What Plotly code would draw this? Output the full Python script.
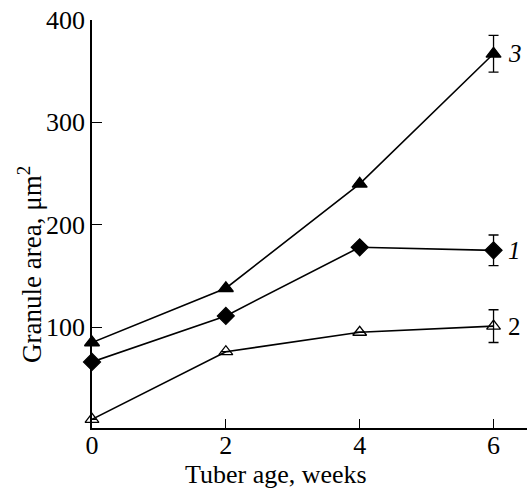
import plotly.graph_objects as go

weeks = [0, 2, 4, 6]
s1 = [66, 111, 178, 175]
s1_err = [0, 0, 0, 15]
s2 = [10, 76, 95, 101]
s2_err = [0, 0, 0, 16]
s3 = [85, 138, 240, 367]
s3_err = [0, 0, 0, 18]
y_ticks = [100, 200, 300, 400]
x_ticks = [0, 2, 4, 6]

FONT = "Liberation Serif"
fig = go.Figure()

def add(y, err, sym, size):
    fig.add_trace(go.Scatter(
        x=weeks, y=y, mode="lines+markers",
        line=dict(color="black", width=1.6),
        marker=dict(symbol=sym, size=size, color="black",
                    line=dict(color="black", width=1.3)),
        error_y=dict(type="data", array=err, visible=True, color="black",
                     thickness=1.3, width=5),
        cliponaxis=False, showlegend=False))

add(s2, s2_err, "triangle-up-open", 12)
add(s1, s1_err, "diamond", 13)
add(s3, s3_err, "triangle-up", 13)

labels = [("3", s3[-1], True), ("1", s1[-1], True), ("2", s2[-1], False)]
for txt, yv, it in labels:
    fig.add_annotation(x=6, y=yv, text=f"<i>{txt}</i>" if it else txt,
                       showarrow=False, xanchor="left", xshift=12,
                       font=dict(family=FONT, size=25, color="black"))

fig.add_annotation(xref="paper", yref="paper", x=(275.5 - 92) / 435,
                   y=-(474 - 428) / 408, yanchor="middle",
                   text="Tuber age, weeks", showarrow=False,
                   font=dict(family=FONT, size=26, color="black"))
fig.add_annotation(xref="paper", yref="paper", x=-(92 - 30) / 435,
                   y=(428 - 265) / 408, xanchor="center", yanchor="middle",
                   text="Granule area, μm<sup>2</sup>",
                   textangle=-90, showarrow=False,
                   font=dict(family=FONT, size=27, color="black"))

fig.update_layout(
    width=527, height=490, paper_bgcolor="white", plot_bgcolor="white",
    margin=dict(l=92, r=0, t=20, b=62),
    font=dict(family=FONT, size=26, color="black"),
    xaxis=dict(range=[0, 6.5], tickvals=x_ticks, ticks="inside", ticklen=9,
               tickwidth=1.3, tickcolor="black", showline=True, linecolor="black",
               linewidth=1.5, showgrid=False, zeroline=False,
               ticklabelstandoff=-7,
               tickfont=dict(family=FONT, size=26)),
    yaxis=dict(range=[1.5, 400], tickvals=y_ticks, ticks="inside", ticklen=10,
               tickwidth=1.3, tickcolor="black", showline=True, linecolor="black",
               linewidth=1.5, showgrid=False, zeroline=False,
               tickfont=dict(family=FONT, size=26)),
)
fig.write_html("out.html")
